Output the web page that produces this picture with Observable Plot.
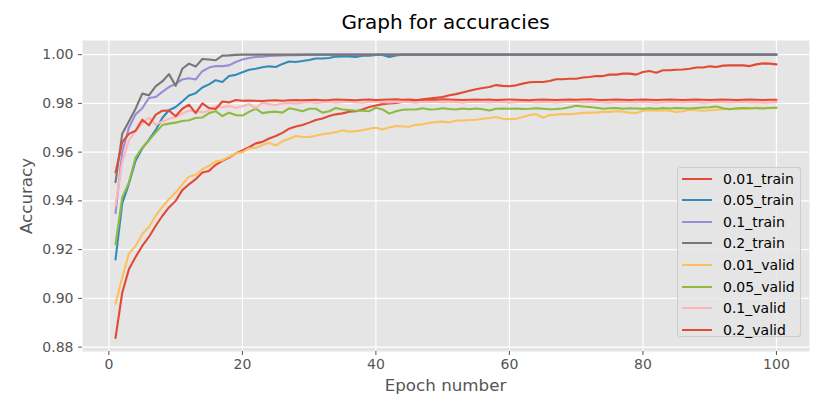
<!DOCTYPE html>
<html><head><meta charset="utf-8">
<script src="https://cdn.jsdelivr.net/npm/d3@7"></script>
<script src="https://cdn.jsdelivr.net/npm/@observablehq/plot@0.6"></script>
<style>
body{margin:0;background:#fff;font-family:"DejaVu Sans",sans-serif;}
#wrap{position:relative;width:830px;height:415px;overflow:hidden;}
.title{position:absolute;left:82px;width:727px;top:12px;text-align:center;font-size:20px;line-height:20px;color:#000;}
.xlab{position:absolute;left:82px;width:727px;top:377px;text-align:center;font-size:16.7px;line-height:17px;color:#555;}
.ylab{position:absolute;left:26px;top:196px;font-size:16.7px;line-height:17px;color:#555;transform:translate(-50%,-50%) rotate(-90deg);white-space:nowrap;}
.legend{position:absolute;left:677px;top:167px;width:124px;height:170px;background:rgba(229,229,229,0.8);border:1px solid #cccccc;border-radius:3px;box-sizing:border-box;}
.li{position:absolute;left:0;height:20px;width:124px;}
.li .sw{position:absolute;left:4px;top:9px;width:30px;height:2.1px;}
.li .tx{position:absolute;left:45px;top:1px;font-size:14px;line-height:18px;color:#000;}
</style></head><body><div id="wrap"></div>
<script>
const epochs = d3.range(1, 101);
const seriesNames = ["0.01_train","0.05_train","0.1_train","0.2_train","0.01_valid","0.05_valid","0.1_valid","0.2_valid"];
const seriesColors = ["#E24A33","#348ABD","#988ED5","#777777","#FBC15E","#8EBA42","#FFB5B8","#E24A33"];
const xTicks = [0,20,40,60,80,100];
const yTicks = [0.88,0.90,0.92,0.94,0.96,0.98,1.00];

const train001 = [0.8838,0.9023,0.9119,0.9170,0.9215,0.9252,0.9297,0.9338,0.9373,0.9400,
0.9444,0.9468,0.9489,0.9516,0.9523,0.9548,0.9564,0.9578,0.9595,0.9607,
0.9620,0.9636,0.9642,0.9656,0.9666,0.9679,0.9696,0.9705,0.9711,0.9721,
0.9732,0.9738,0.9748,0.9755,0.9759,0.9766,0.9768,0.9775,0.9785,0.9791,
0.9797,0.9800,0.9802,0.9806,0.9808,0.9812,0.9817,0.9820,0.9823,0.9826,
0.9833,0.9838,0.9845,0.9852,0.9858,0.9863,0.9867,0.9875,0.9872,0.9870,
0.9874,0.9881,0.9887,0.9888,0.9888,0.9892,0.9899,0.9899,0.9901,0.9901,
0.9906,0.9908,0.9912,0.9912,0.9918,0.9918,0.9922,0.9922,0.9918,0.9929,
0.9933,0.9926,0.9936,0.9936,0.9938,0.9939,0.9942,0.9947,0.9947,0.9952,
0.9949,0.9955,0.9956,0.9956,0.9956,0.9953,0.9960,0.9964,0.9963,0.9960];

const train005 = [0.9160,0.9390,0.9470,0.9565,0.9615,0.9650,0.9690,0.9740,0.9772,0.9785,
0.9808,0.9832,0.9842,0.9865,0.9878,0.9895,0.9888,0.9912,0.9917,0.9928,
0.9938,0.9942,0.9948,0.9952,0.9949,0.9962,0.9972,0.9970,0.9974,0.9978,
0.9984,0.9984,0.9986,0.9992,0.9993,0.9993,0.9990,0.9996,0.9996,0.9999,
0.9999,0.9990,0.9997,1.0000,1.0000,1.0000,1.0000,1.0000,1.0000,1.0000,
1.0000,1.0000,1.0000,1.0000,1.0000,1.0000,1.0000,1.0000,1.0000,1.0000,
1.0000,1.0000,1.0000,1.0000,1.0000,1.0000,1.0000,1.0000,1.0000,1.0000,
1.0000,1.0000,1.0000,1.0000,1.0000,1.0000,1.0000,1.0000,1.0000,1.0000,
1.0000,1.0000,1.0000,1.0000,1.0000,1.0000,1.0000,1.0000,1.0000,1.0000,
1.0000,1.0000,1.0000,1.0000,1.0000,1.0000,1.0000,1.0000,1.0000,1.0000];

const train01 = [0.9350,0.9600,0.9700,0.9755,0.9780,0.9822,0.9826,0.9847,0.9867,0.9880,
0.9898,0.9903,0.9898,0.9932,0.9947,0.9953,0.9953,0.9956,0.9970,0.9980,
0.9986,0.9990,0.9992,0.9995,0.9996,0.9997,0.9998,0.9998,0.9999,1.0000,
1.0000,1.0000,1.0000,1.0000,1.0000,1.0000,1.0000,1.0000,1.0000,1.0000,
1.0000,1.0000,1.0000,1.0000,1.0000,1.0000,1.0000,1.0000,1.0000,1.0000,
1.0000,1.0000,1.0000,1.0000,1.0000,1.0000,1.0000,1.0000,1.0000,1.0000,
1.0000,1.0000,1.0000,1.0000,1.0000,1.0000,1.0000,1.0000,1.0000,1.0000,
1.0000,1.0000,1.0000,1.0000,1.0000,1.0000,1.0000,1.0000,1.0000,1.0000,
1.0000,1.0000,1.0000,1.0000,1.0000,1.0000,1.0000,1.0000,1.0000,1.0000,
1.0000,1.0000,1.0000,1.0000,1.0000,1.0000,1.0000,1.0000,1.0000,1.0000];

const train02 = [0.9477,0.9675,0.9726,0.9778,0.9840,0.9833,0.9870,0.9890,0.9920,0.9872,
0.9942,0.9963,0.9951,0.9982,0.9980,0.9977,0.9996,0.9997,0.9999,1.0000,
1.0000,1.0000,1.0000,1.0000,1.0000,1.0000,1.0000,1.0000,1.0000,1.0000,
1.0000,1.0000,1.0000,1.0000,1.0000,1.0000,1.0000,1.0000,1.0000,1.0000,
1.0000,1.0000,1.0000,1.0000,1.0000,1.0000,1.0000,1.0000,1.0000,1.0000,
1.0000,1.0000,1.0000,1.0000,1.0000,1.0000,1.0000,1.0000,1.0000,1.0000,
1.0000,1.0000,1.0000,1.0000,1.0000,1.0000,1.0000,1.0000,1.0000,1.0000,
1.0000,1.0000,1.0000,1.0000,1.0000,1.0000,1.0000,1.0000,1.0000,1.0000,
1.0000,1.0000,1.0000,1.0000,1.0000,1.0000,1.0000,1.0000,1.0000,1.0000,
1.0000,1.0000,1.0000,1.0000,1.0000,1.0000,1.0000,1.0000,1.0000,1.0000];

const valid001 = [0.8978,0.9085,0.9184,0.9215,0.9263,0.9293,0.9338,0.9375,0.9407,0.9434,
0.9468,0.9499,0.9507,0.9530,0.9544,0.9562,0.9567,0.9581,0.9595,0.9600,
0.9615,0.9618,0.9629,0.9638,0.9627,0.9645,0.9655,0.9666,0.9662,0.9662,
0.9667,0.9673,0.9677,0.9682,0.9690,0.9684,0.9686,0.9690,0.9696,0.9700,
0.9693,0.9701,0.9707,0.9705,0.9704,0.9712,0.9714,0.9720,0.9723,0.9725,
0.9722,0.9730,0.9730,0.9732,0.9733,0.9737,0.9740,0.9744,0.9737,0.9735,
0.9737,0.9744,0.9752,0.9756,0.9741,0.9752,0.9754,0.9756,0.9756,0.9758,
0.9761,0.9762,0.9762,0.9765,0.9765,0.9768,0.9766,0.9762,0.9760,0.9770,
0.9772,0.9770,0.9772,0.9770,0.9765,0.9768,0.9774,0.9772,0.9770,0.9772,
0.9774,0.9776,0.9778,0.9776,0.9778,0.9778,0.9783,0.9781,0.9782,0.9783];

const valid005 = [0.9222,0.9414,0.9475,0.9578,0.9618,0.9648,0.9680,0.9711,0.9717,0.9721,
0.9728,0.9731,0.9740,0.9742,0.9760,0.9768,0.9748,0.9762,0.9752,0.9750,
0.9765,0.9778,0.9760,0.9764,0.9766,0.9762,0.9780,0.9775,0.9768,0.9778,
0.9778,0.9762,0.9768,0.9781,0.9775,0.9773,0.9770,0.9770,0.9768,0.9782,
0.9775,0.9758,0.9768,0.9774,0.9775,0.9775,0.9780,0.9775,0.9776,0.9780,
0.9777,0.9775,0.9779,0.9776,0.9779,0.9776,0.9771,0.9778,0.9779,0.9778,
0.9779,0.9777,0.9778,0.9780,0.9778,0.9776,0.9777,0.9779,0.9784,0.9790,
0.9787,0.9785,0.9782,0.9778,0.9780,0.9781,0.9778,0.9780,0.9779,0.9778,
0.9780,0.9778,0.9781,0.9779,0.9781,0.9780,0.9779,0.9781,0.9783,0.9784,
0.9787,0.9780,0.9776,0.9780,0.9781,0.9780,0.9780,0.9779,0.9781,0.9782];

const valid01 = [0.9380,0.9560,0.9648,0.9686,0.9716,0.9742,0.9712,0.9726,0.9737,0.9744,
0.9758,0.9771,0.9767,0.9764,0.9770,0.9788,0.9784,0.9789,0.9782,0.9788,
0.9797,0.9781,0.9803,0.9797,0.9793,0.9800,0.9802,0.9799,0.9803,0.9805,
0.9802,0.9804,0.9806,0.9803,0.9805,0.9807,0.9804,0.9803,0.9806,0.9808,
0.9805,0.9804,0.9806,0.9807,0.9805,0.9803,0.9806,0.9805,0.9807,0.9804,
0.9806,0.9805,0.9803,0.9806,0.9807,0.9805,0.9804,0.9806,0.9805,0.9803,
0.9805,0.9807,0.9806,0.9804,0.9805,0.9806,0.9803,0.9805,0.9807,0.9806,
0.9804,0.9805,0.9806,0.9804,0.9803,0.9805,0.9806,0.9805,0.9804,0.9806,
0.9805,0.9803,0.9804,0.9806,0.9805,0.9804,0.9806,0.9805,0.9803,0.9804,
0.9806,0.9805,0.9804,0.9805,0.9806,0.9804,0.9805,0.9803,0.9804,0.9805];

const valid02 = [0.9517,0.9641,0.9675,0.9688,0.9733,0.9710,0.9753,0.9770,0.9771,0.9747,
0.9778,0.9795,0.9760,0.9800,0.9781,0.9777,0.9808,0.9804,0.9814,0.9811,
0.9812,0.9811,0.9810,0.9812,0.9813,0.9811,0.9813,0.9814,0.9813,0.9814,
0.9815,0.9813,0.9814,0.9816,0.9815,0.9814,0.9813,0.9815,0.9816,0.9814,
0.9815,0.9816,0.9817,0.9815,0.9816,0.9814,0.9815,0.9816,0.9815,0.9817,
0.9816,0.9815,0.9814,0.9815,0.9816,0.9815,0.9816,0.9814,0.9815,0.9816,
0.9815,0.9814,0.9813,0.9815,0.9816,0.9815,0.9814,0.9815,0.9816,0.9815,
0.9816,0.9817,0.9815,0.9814,0.9815,0.9816,0.9815,0.9814,0.9815,0.9816,
0.9815,0.9814,0.9815,0.9816,0.9815,0.9814,0.9815,0.9816,0.9815,0.9814,
0.9815,0.9816,0.9815,0.9814,0.9815,0.9816,0.9815,0.9814,0.9815,0.9815];

const seriesValues = [train001, train005, train01, train02, valid001, valid005, valid01, valid02];

const lineMarks = seriesValues.map((vals, k) =>
  Plot.line(vals, {x: epochs, y: vals, stroke: seriesColors[k], strokeWidth: 2.1, strokeLinejoin: "round"})
);

const chart = Plot.plot({
  width: 830, height: 415,
  marginLeft: 82, marginRight: 21, marginTop: 40, marginBottom: 64,
  style: {fontFamily: "DejaVu Sans", fontSize: "14px", color: "#555555", background: "transparent", overflow: "visible"},
  x: {domain: [-3.95, 104.95]},
  y: {domain: [0.8782, 1.0058]},
  marks: [
    Plot.frame({fill: "#E5E5E5", stroke: "none"}),
    Plot.gridX(xTicks, {stroke: "#ffffff", strokeOpacity: 1, strokeWidth: 1.2}),
    Plot.gridY(yTicks, {stroke: "#ffffff", strokeOpacity: 1, strokeWidth: 1.2}),
    ...lineMarks,
    Plot.axisX(xTicks, {tickSize: 4, tickPadding: 4, fontSize: 14, color: "#555555", label: null}),
    Plot.axisY(yTicks, {tickSize: 4, tickPadding: 5, fontSize: 14, color: "#555555", tickFormat: ".2f", label: null})
  ]
});

const wrap = document.getElementById("wrap");
wrap.appendChild(chart);

function addDiv(cls, text) {
  const d = document.createElement("div");
  d.className = cls;
  if (text) d.textContent = text;
  wrap.appendChild(d);
  return d;
}
addDiv("title", "Graph for accuracies");
addDiv("xlab", "Epoch number");
addDiv("ylab", "Accuracy");
const leg = addDiv("legend");
seriesNames.forEach((name, k) => {
  const row = document.createElement("div");
  row.className = "li";
  row.style.top = (0.5 + 21.6 * k) + "px";
  const sw = document.createElement("div");
  sw.className = "sw";
  sw.style.background = seriesColors[k];
  const tx = document.createElement("div");
  tx.className = "tx";
  tx.textContent = name;
  row.appendChild(sw); row.appendChild(tx);
  leg.appendChild(row);
});
</script></body></html>
